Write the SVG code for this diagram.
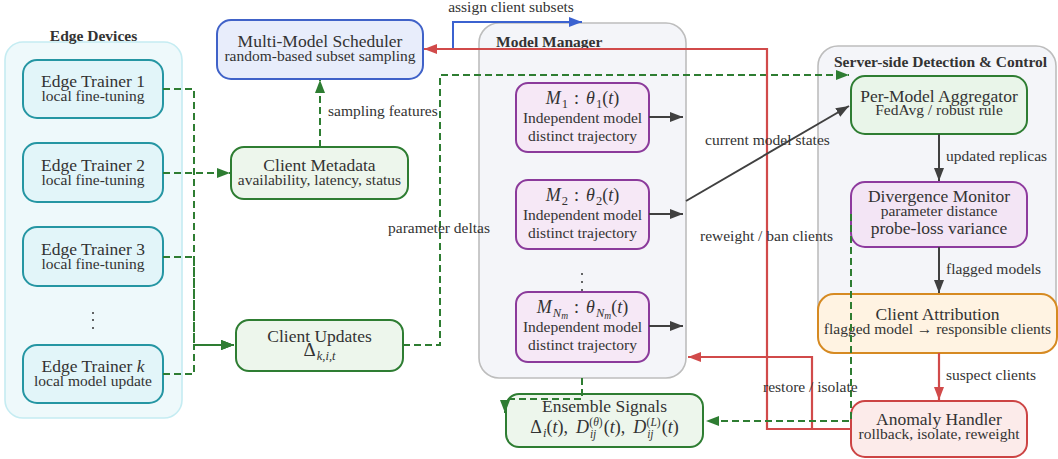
<svg xmlns="http://www.w3.org/2000/svg" width="1058" height="459" viewBox="0 0 1058 459">
<style>
text{font-family:"Liberation Serif","DejaVu Serif",serif;fill:#333;}
.t{font-size:17.5px;text-anchor:middle;}
.s{font-size:15.5px;text-anchor:middle;}
.l{font-size:15.5px;}
.h{font-size:15.5px;font-weight:bold;}
.i{font-style:italic;}
.cont{stroke-width:1.6;}
.box{stroke-width:2;}
.gd{fill:none;stroke:#2e7d32;stroke-width:2;stroke-dasharray:7 4;}
.rd{fill:none;stroke:#d14a4a;stroke-width:2.2;}
.bl{fill:none;stroke:#3b62d0;stroke-width:2;}
.dk{fill:none;stroke:#404040;stroke-width:2;}
</style>
<defs>
<marker id="ag" markerUnits="userSpaceOnUse" markerWidth="13" markerHeight="10" refX="13" refY="5" orient="auto"><path d="M0,0 L13,5 L0,10 z" fill="#2e7d32"/></marker>
<marker id="ar" markerUnits="userSpaceOnUse" markerWidth="13" markerHeight="10" refX="13" refY="5" orient="auto"><path d="M0,0 L13,5 L0,10 z" fill="#d14a4a"/></marker>
<marker id="ab" markerUnits="userSpaceOnUse" markerWidth="13" markerHeight="10" refX="13" refY="5" orient="auto"><path d="M0,0 L13,5 L0,10 z" fill="#3b62d0"/></marker>
<marker id="ak" markerUnits="userSpaceOnUse" markerWidth="13" markerHeight="10" refX="13" refY="5" orient="auto"><path d="M0,0 L13,5 L0,10 z" fill="#404040"/></marker>
</defs>

<g id="edge-devices">
<rect class="cont" x="5" y="42" width="177" height="376" rx="18" fill="#eef9fb" stroke="#c5ecf2"/>
<text class="h" x="93.5" y="41" text-anchor="middle">Edge Devices</text>
<circle cx="93" cy="313" r="1" fill="#333"/><circle cx="93" cy="320" r="1" fill="#333"/><circle cx="93" cy="328" r="1" fill="#333"/>
</g>
<g id="edge-trainer-1">
<rect class="box" x="23" y="60" width="140" height="58" rx="14" fill="#e2f5f9" stroke="#2596a3"/>
<text class="t" x="93" y="87">Edge Trainer 1</text><text class="s" x="93" y="101">local fine-tuning</text>
</g>
<g id="edge-trainer-2">
<rect class="box" x="23" y="143" width="140" height="59" rx="14" fill="#e2f5f9" stroke="#2596a3"/>
<text class="t" x="93" y="171">Edge Trainer 2</text><text class="s" x="93" y="185">local fine-tuning</text>
</g>
<g id="edge-trainer-3">
<rect class="box" x="23" y="227" width="140" height="59" rx="14" fill="#e2f5f9" stroke="#2596a3"/>
<text class="t" x="93" y="255">Edge Trainer 3</text><text class="s" x="93" y="269">local fine-tuning</text>
</g>
<g id="edge-trainer-k">
<rect class="box" x="23" y="345" width="140" height="58" rx="14" fill="#e2f5f9" stroke="#2596a3"/>
<text class="t" x="93" y="372">Edge Trainer <tspan class="i">k</tspan></text><text class="s" x="93" y="386">local model update</text>
</g>

<g id="scheduler">
<rect class="box" x="217" y="20" width="206" height="59" rx="14" fill="#e8edfb" stroke="#4062c8"/>
<text class="t" x="320" y="47">Multi-Model Scheduler</text><text class="s" x="320" y="61">random-based subset sampling</text>
</g>
<g id="client-metadata">
<rect class="box" x="231" y="147" width="177" height="52" rx="13" fill="#edf6ec" stroke="#2e7d32"/>
<text class="t" x="319.5" y="171">Client Metadata</text><text class="s" x="319.5" y="185">availability, latency, status</text>
</g>
<g id="client-updates">
<rect class="box" x="236" y="320" width="167" height="51" rx="13" fill="#edf6ec" stroke="#2e7d32"/>
<text class="t" x="319.5" y="342">Client Updates</text>
<text x="319.5" y="356" font-size="19" text-anchor="middle">Δ<tspan class="i" font-size="12.5" dx="1" dy="4">k,i,t</tspan></text>
</g>

<g id="model-manager">
<rect class="cont" x="479" y="23" width="207" height="355" rx="20" fill="#f4f5f9" stroke="#bdbdbd"/>
<text class="h" x="496" y="47">Model Manager</text>
<circle cx="582" cy="274" r="1" fill="#333"/><circle cx="582" cy="282" r="1" fill="#333"/><circle cx="582" cy="290" r="1" fill="#333"/>
</g>
<g id="model-1">
<rect class="box" x="516" y="83" width="133" height="69" rx="12" fill="#f6e8f6" stroke="#8b3a9b"/>
<text x="582.5" y="104" font-size="18" text-anchor="middle"><tspan class="i">M</tspan><tspan font-size="12.5" dx="1" dy="4">1</tspan><tspan dx="6" dy="-4">:</tspan><tspan class="i" dx="7">θ</tspan><tspan font-size="12.5" dx="1" dy="4">1</tspan><tspan dy="-4">(</tspan><tspan class="i">t</tspan>)</text>
<text class="s" x="582.5" y="123">Independent model</text><text class="s" x="582.5" y="141">distinct trajectory</text>
</g>
<g id="model-2">
<rect class="box" x="516" y="180" width="133" height="69" rx="12" fill="#f6e8f6" stroke="#8b3a9b"/>
<text x="582.5" y="201" font-size="18" text-anchor="middle"><tspan class="i">M</tspan><tspan font-size="12.5" dx="1" dy="4">2</tspan><tspan dx="6" dy="-4">:</tspan><tspan class="i" dx="7">θ</tspan><tspan font-size="12.5" dx="1" dy="4">2</tspan><tspan dy="-4">(</tspan><tspan class="i">t</tspan>)</text>
<text class="s" x="582.5" y="220">Independent model</text><text class="s" x="582.5" y="238">distinct trajectory</text>
</g>
<g id="model-n">
<rect class="box" x="516" y="292" width="133" height="70" rx="12" fill="#f6e8f6" stroke="#8b3a9b"/>
<text x="582.5" y="313" font-size="18" text-anchor="middle"><tspan class="i">M</tspan><tspan class="i" font-size="12.5" dx="1" dy="4">N</tspan><tspan class="i" font-size="9.5" dy="2">m</tspan><tspan dx="6" dy="-6">:</tspan><tspan class="i" dx="7">θ</tspan><tspan class="i" font-size="12.5" dx="1" dy="4">N</tspan><tspan class="i" font-size="9.5" dy="2">m</tspan><tspan dy="-6">(</tspan><tspan class="i">t</tspan>)</text>
<text class="s" x="582.5" y="332">Independent model</text><text class="s" x="582.5" y="350">distinct trajectory</text>
</g>

<g id="ensemble-signals">
<rect class="box" x="506" y="394" width="197" height="53" rx="13" fill="#edf6ec" stroke="#2e7d32"/>
<text class="t" x="604.5" y="412">Ensemble Signals</text>
<text x="604.5" y="433" font-size="18" text-anchor="middle">Δ<tspan class="i" font-size="12.5" dx="1" dy="4">i</tspan><tspan dy="-4">(</tspan><tspan class="i">t</tspan>),<tspan class="i" dx="8">D</tspan><tspan class="i" font-size="11.5" dx="1" dy="5">ij</tspan><tspan font-size="11.5" dx="-7" dy="-12">(<tspan class="i">θ</tspan>)</tspan><tspan dx="1" dy="7">(</tspan><tspan class="i">t</tspan>),<tspan class="i" dx="8">D</tspan><tspan class="i" font-size="11.5" dx="1" dy="5">ij</tspan><tspan font-size="11.5" dx="-7" dy="-12">(<tspan class="i">L</tspan>)</tspan><tspan dx="1" dy="7">(</tspan><tspan class="i">t</tspan>)</text>
</g>

<g id="server-side">
<rect class="cont" x="818" y="46" width="238" height="306" rx="20" fill="#f4f5f9" stroke="#bdbdbd"/>
<text class="h" x="834" y="67">Server-side Detection &amp; Control</text>
</g>
<g id="aggregator">
<rect class="box" x="851" y="76" width="176" height="58" rx="14" fill="#e9f5e9" stroke="#2e7d32"/>
<text class="t" x="939" y="102">Per-Model Aggregator</text><text class="s" x="939" y="115">FedAvg / robust rule</text>
</g>
<g id="divergence-monitor">
<rect class="box" x="851" y="182" width="176" height="65" rx="14" fill="#f3e5f5" stroke="#8e3a9e"/>
<text class="t" x="939" y="202">Divergence Monitor</text><text class="s" x="939" y="216">parameter distance</text><text class="t" x="939" y="234">probe-loss variance</text>
</g>
<g id="client-attribution">
<rect class="box" x="818" y="294" width="239" height="59" rx="16" fill="#fff3e2" stroke="#d68a22"/>
<text class="t" x="937.5" y="320">Client Attribution</text><text class="s" x="937.5" y="334">flagged model → responsible clients</text>
</g>
<g id="anomaly-handler">
<rect class="box" x="851" y="401" width="176" height="56" rx="14" fill="#fcebea" stroke="#cc4444"/>
<text class="t" x="939" y="425">Anomaly Handler</text><text class="s" x="939" y="439">rollback, isolate, reweight</text>
</g>

<g id="connectors">
<path class="gd" d="M163,89 H194 V345 H234" marker-end="url(#ag)"/>
<path class="gd" d="M163,257 H194 V345 H234" marker-end="url(#ag)"/>
<path class="gd" d="M163,374 H194 V345 H234" marker-end="url(#ag)"/>
<path class="gd" d="M163,173 H230" marker-end="url(#ag)"/>
<path class="gd" d="M320,147 V80" marker-end="url(#ag)"/>
<path class="gd" d="M403,345 H440 V75 H849" marker-end="url(#ag)"/>
<path class="bl" d="M423,49 H453 V22 H582" marker-end="url(#ab)"/>
<path class="rd" d="M851,429 H767 V49 H424" marker-end="url(#ar)"/>
<path class="rd" d="M851,429 H812 V357 H688" marker-end="url(#ar)"/>
<path class="dk" d="M649,117 H683" marker-end="url(#ak)"/>
<path class="dk" d="M649,214 H683" marker-end="url(#ak)"/>
<path class="dk" d="M649,326 H683" marker-end="url(#ak)"/>
<path class="dk" d="M686,201 L849,106" marker-end="url(#ak)"/>
<path class="dk" d="M939,134 V181" marker-end="url(#ak)"/>
<path class="dk" d="M939,247 V293" marker-end="url(#ak)"/>
<path class="rd" d="M939,353 V400" marker-end="url(#ar)"/>
<path class="gd" d="M851,214 V421 H706" marker-end="url(#ag)"/>
<path class="gd" d="M582,378 V399 H505 V413" marker-end="url(#ag)"/>
</g>

<g id="labels">
<text class="l" x="511" y="12" text-anchor="middle">assign client subsets</text>
<text class="l" x="328" y="116">sampling features</text>
<text class="l" x="388" y="233">parameter deltas</text>
<text class="l" x="705" y="145">current model states</text>
<text class="l" x="700" y="241">reweight / ban clients</text>
<text class="l" x="763" y="392">restore / isolate</text>
<text class="l" x="946" y="161">updated replicas</text>
<text class="l" x="946" y="274">flagged models</text>
<text class="l" x="946" y="380">suspect clients</text>
</g>
</svg>
